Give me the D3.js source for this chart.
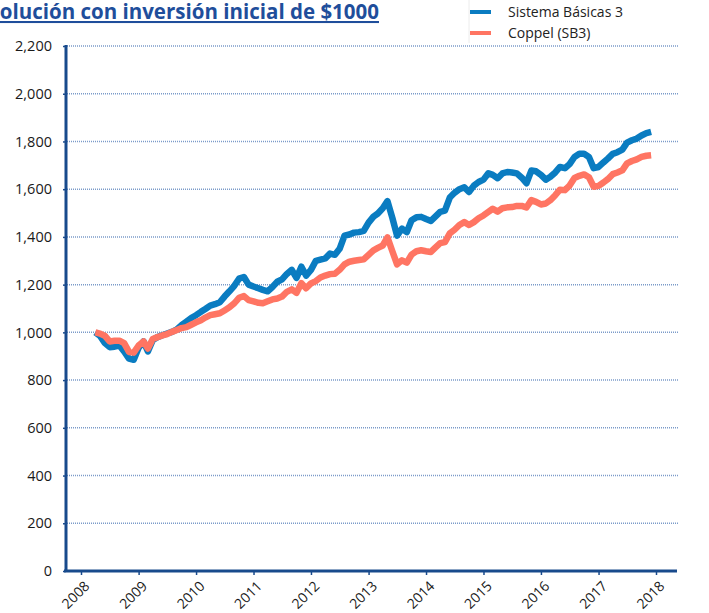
<!DOCTYPE html>
<html>
<head>
<meta charset="utf-8">
<script src="https://cdn.jsdelivr.net/npm/d3@7"></script>
<style>
  body { margin: 0; background: #fff; }
  svg { display: block; font-family: "Open Sans", "Noto Sans", sans-serif; }
</style>
</head>
<body>
<div id="chart"></div>
<script>
// monthly values, first month April 2008
const startMonth = new Date(2008, 3, 1);

const sistemaBasicas = [
  1000, 985, 955, 938, 940, 945, 920, 890, 885, 935, 962, 920,
  968, 980, 988, 995, 1002, 1012, 1030, 1045, 1060, 1072, 1086, 1098,
  1112, 1118, 1126, 1150, 1172, 1195, 1225, 1232, 1200, 1192, 1185, 1178,
  1172, 1190, 1212, 1222, 1245, 1262, 1228, 1275, 1238, 1262, 1300, 1305,
  1310, 1330, 1325, 1350, 1405, 1410, 1418, 1420, 1425, 1460, 1485, 1498,
  1520, 1550, 1480, 1405, 1435, 1420, 1470, 1482, 1484, 1475, 1467, 1485,
  1505, 1510, 1565, 1585, 1600, 1608, 1588, 1615, 1630, 1640, 1667, 1660,
  1646, 1666, 1672, 1670, 1666, 1648, 1625, 1678, 1675, 1660, 1640, 1652,
  1670, 1693, 1688, 1705, 1735, 1748, 1748, 1735, 1688, 1693, 1712, 1728,
  1748, 1755, 1766, 1795, 1805, 1812, 1825, 1835, 1840
];

const coppel = [
  1000, 995, 985, 962, 965, 965, 955, 918, 915, 945, 962, 932,
  972, 980, 987, 993, 1002, 1010, 1018, 1022, 1032, 1042, 1051, 1062,
  1072, 1076, 1080, 1092, 1105, 1122, 1145, 1152, 1135, 1130, 1124, 1122,
  1130, 1138, 1142, 1150, 1170, 1180, 1166, 1206, 1185, 1205, 1215, 1230,
  1238, 1244, 1246, 1262, 1285, 1296, 1300, 1303, 1306, 1325, 1344, 1354,
  1364, 1398, 1340, 1285, 1302, 1292, 1326, 1340, 1344, 1340, 1337, 1355,
  1374, 1378, 1415, 1430, 1450, 1462, 1450, 1462, 1478, 1490, 1505, 1518,
  1506, 1520, 1524, 1525, 1530, 1530, 1523, 1554, 1547, 1536, 1540, 1554,
  1575, 1598, 1596, 1615, 1647, 1656, 1662, 1650, 1610, 1614, 1628, 1642,
  1663, 1670, 1679, 1708, 1718, 1725, 1735, 1740, 1742
];

const seriesNames = ["Sistema Básicas 3", "Coppel (SB3)"];
const seriesColors = ["#0a7cc1", "#ff7563"];
const yearTicks = [2008, 2009, 2010, 2011, 2012, 2013, 2014, 2015, 2016, 2017, 2018];
const yTicks = [0, 200, 400, 600, 800, 1000, 1200, 1400, 1600, 1800, 2000, 2200];
const titleText = "Evolución con inversión inicial de $1000";

const width = 709;
const height = 613;

const svg = d3
  .select("#chart")
  .append("svg")
  .attr("width", width)
  .attr("height", height);

const x = d3
  .scaleTime()
  .domain([new Date(2008, 0, 1), new Date(2018, 0, 1)])
  .range([81, 656]);

const y = d3.scaleLinear().domain([0, 2200]).range([571, 46]);

const axisColor = "#184a8c";

// gridlines
svg
  .append("g")
  .selectAll("line")
  .data(yTicks.filter((d) => d > 0))
  .join("line")
  .attr("x1", 67)
  .attr("x2", 678)
  .attr("y1", (d) => y(d))
  .attr("y2", (d) => y(d))
  .attr("stroke", "#7b9bc9")
  .attr("stroke-width", 1.5)
  .attr("stroke-dasharray", "1,1");

// y axis
const yAxis = svg
  .append("g")
  .attr("transform", "translate(66,0)")
  .call(d3.axisLeft(y).tickValues(yTicks).tickSize(3).tickPadding(11).tickFormat(d3.format(",")));
yAxis.select(".domain").remove();
yAxis.selectAll(".tick line").attr("stroke", axisColor).attr("stroke-width", 1.5);
yAxis
  .selectAll(".tick text")
  .style("font-size", "14.5px")
  .style("font-family", "\"Open Sans\", sans-serif")
  .attr("fill", "#1a1a1a");

// x axis
const xAxis = svg
  .append("g")
  .attr("transform", "translate(0,571)")
  .call(
    d3
      .axisBottom(x)
      .tickValues(yearTicks.map((yr) => new Date(yr, 0, 1)))
      .tickSize(4)
      .tickFormat(d3.timeFormat("%Y"))
  );
xAxis.select(".domain").remove();
xAxis.selectAll(".tick line").attr("stroke", axisColor).attr("stroke-width", 1.5);
xAxis
  .selectAll(".tick text")
  .style("font-size", "14px")
  .style("font-family", "\"Open Sans\", sans-serif")
  .attr("fill", "#1a1a1a")
  .attr("text-anchor", "end")
  .attr("dy", null)
  .attr("y", 0)
  .attr("transform", "translate(9,16) rotate(-45)");

// axis lines
svg
  .append("line")
  .attr("x1", 64)
  .attr("x2", 677)
  .attr("y1", 571)
  .attr("y2", 571)
  .attr("stroke", axisColor)
  .attr("stroke-width", 3);

svg
  .append("line")
  .attr("x1", 66)
  .attr("x2", 66)
  .attr("y1", 45)
  .attr("y2", 572)
  .attr("stroke", axisColor)
  .attr("stroke-width", 3);

// lines
const line = d3
  .line()
  .x((d, i) => x(d3.timeMonth.offset(startMonth, i)))
  .y((d) => y(d))
  .curve(d3.curveLinear);

[sistemaBasicas, coppel].forEach((values, i) => {
  svg
    .append("path")
    .datum(values)
    .attr("fill", "none")
    .attr("stroke", seriesColors[i])
    .attr("stroke-width", 6.5)
    .attr("stroke-linejoin", "round")
    .attr("d", line);
});

// title (left part is cut off by the page edge, as in the original)
svg
  .append("text")
  .attr("x", 379)
  .attr("y", 19)
  .attr("text-anchor", "end")
  .style("font-size", "20.5px")
  .style("font-weight", "bold")
  .style("text-decoration", "underline")
  .attr("fill", "#1f4e9b")
  .text(titleText);

// legend
svg
  .append("line")
  .attr("x1", 469)
  .attr("x2", 469)
  .attr("y1", 0)
  .attr("y2", 43)
  .attr("stroke", "#ececec");

const legend = svg
  .append("g")
  .selectAll("g")
  .data(seriesNames)
  .join("g")
  .attr("transform", (d, i) => `translate(470,${12 + i * 21})`);

legend
  .append("line")
  .attr("x1", 0)
  .attr("x2", 21)
  .attr("stroke", (d, i) => seriesColors[i])
  .attr("stroke-width", 4);

legend
  .append("text")
  .attr("x", 38)
  .attr("dy", "0.35em")
  .style("font-size", "14px")
  .attr("fill", "#222")
  .text((d) => d);
</script>
</body>
</html>
